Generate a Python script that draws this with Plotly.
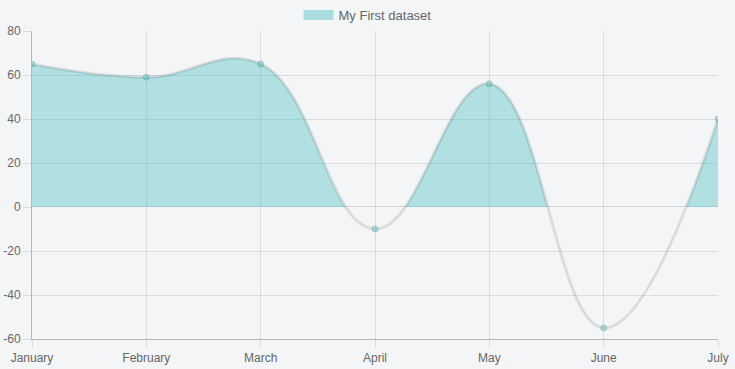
import plotly.graph_objects as go

months = ["January", "February", "March", "April", "May", "June", "July"]
values = [65, 59, 65, -10, 56, -55, 40]
dataset_label = "My First dataset"
y_ticks_pos = [0, 20, 40, 60, 80]
y_ticks_neg = [-60, -40, -20]

BG = "rgb(244,245,247)"
FILL = "rgba(75,192,192,0.4)"
LINE = "rgba(0,0,0,0.1)"
GRID = "rgba(0,0,0,0.1)"
AXIS = "rgba(0,0,0,0.25)"
FONT = "Liberation Sans, Arial, Helvetica, sans-serif"
SMOOTH = 1.2

ymin, ymax = -60, 80
zero_frac = (0 - ymin) / (ymax - ymin)

line_style = dict(shape="spline", smoothing=SMOOTH, width=3, color=LINE)
marker_style = dict(size=6, color="rgba(75,192,192,0.4)",
                    line=dict(width=1, color="rgba(0,0,0,0.15)"))

fig = go.Figure()

# upper half (values >= 0): filled area to zero, clipped by the subplot
fig.add_trace(go.Scatter(
    x=months, y=values, xaxis="x", yaxis="y",
    mode="lines", line=dict(shape="spline", smoothing=SMOOTH, width=0, color=FILL),
    fill="tozeroy", fillcolor=FILL,
    name=dataset_label, legendgroup="ds", showlegend=False, hoverinfo="skip",
))
fig.add_trace(go.Scatter(
    x=months, y=values, xaxis="x", yaxis="y",
    mode="lines+markers", line=line_style, marker=marker_style,
    name=dataset_label, legendgroup="ds", showlegend=False,
))
# lower half (values < 0): line only
fig.add_trace(go.Scatter(
    x=months, y=values, xaxis="x", yaxis="y2",
    mode="lines+markers", line=line_style, marker=marker_style,
    name=dataset_label, legendgroup="ds", showlegend=False,
))
# legend entry (box swatch)
fig.add_trace(go.Scatter(
    x=[None], y=[None], xaxis="x", yaxis="y",
    mode="lines", line=dict(width=12, color="rgba(75,192,192,0.45)"),
    name=dataset_label, legendgroup="ds", showlegend=True, hoverinfo="skip",
))


def tick_text(vals):
    return [str(v) for v in vals]


common_y = dict(showgrid=True, gridcolor=GRID, ticks="outside", ticklen=8,
                tickcolor=GRID, showline=True, linecolor=AXIS, zeroline=False,
                tickfont=dict(size=12, color="#666"), anchor="x", automargin=False)

fig.update_layout(
    width=735, height=369,
    margin=dict(l=32, r=17, t=31, b=30, autoexpand=False),
    paper_bgcolor=BG, plot_bgcolor=BG,
    font=dict(family=FONT, size=12, color="#666"),
    showlegend=True,
    legend=dict(orientation="h", xref="container", yref="container",
                x=0.5, xanchor="center", y=1.0, yanchor="top",
                font=dict(family=FONT, size=13, color="#666"),
                bgcolor="rgba(0,0,0,0)"),
    xaxis=dict(type="category", categoryorder="array", categoryarray=months,
               range=[0, len(months) - 1], showgrid=True, gridcolor=GRID,
               ticks="outside", ticklen=8, tickcolor=GRID,
               showline=True, linecolor=AXIS, zeroline=False, automargin=False,
               anchor="y2", tickfont=dict(size=12, color="#666")),
    yaxis=dict(range=[0, ymax], tickvals=y_ticks_pos, ticktext=tick_text(y_ticks_pos),
               domain=[zero_frac, 1], **common_y),
    yaxis2=dict(range=[ymin, 0], tickvals=y_ticks_neg, ticktext=tick_text(y_ticks_neg),
                domain=[0, zero_frac], **common_y),
    shapes=[dict(type="line", xref="x domain", yref="y", x0=0, x1=1, y0=0, y1=0,
                 line=dict(color=AXIS, width=1), layer="below")],
)

fig.write_html("out.html")
